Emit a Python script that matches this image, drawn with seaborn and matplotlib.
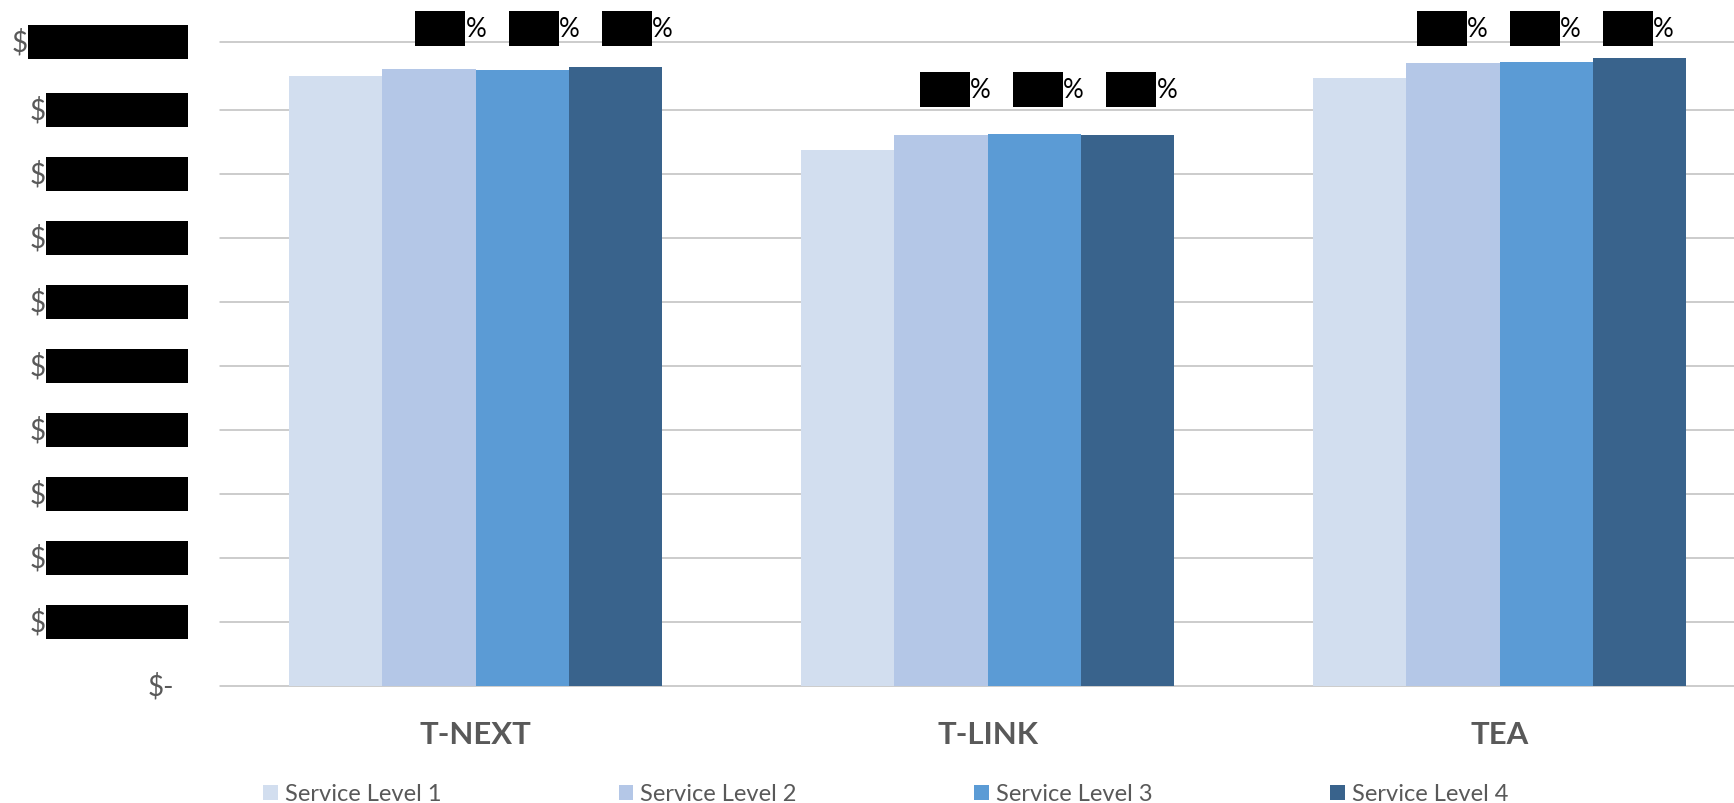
import numpy as np
import pandas as pd
import matplotlib
matplotlib.use("Agg")
import matplotlib.pyplot as plt
import matplotlib.transforms as mtransforms
from matplotlib.patches import Rectangle, Patch
import seaborn as sns

# ---- data (revenue, $ millions) ----
products = ["T-NEXT", "T-LINK", "TEA"]
levels = ["Service Level 1", "Service Level 2", "Service Level 3", "Service Level 4"]
level1 = [9.53, 8.37, 9.51]
level2 = [9.64, 8.605, 9.73]
level3 = [9.62, 8.62, 9.76]
level4 = [9.68, 8.605, 9.82]
y_ticks = [0, 1, 2, 3, 4, 5, 6, 7, 8, 9]
y_top = 10.07

series = [level1, level2, level3, level4]
df = pd.DataFrame(
    [(p, lv, s[i]) for lv, s in zip(levels, series) for i, p in enumerate(products)],
    columns=["product", "level", "value"],
)

colors = ["#D2DEEF", "#B4C7E7", "#5B9BD5", "#39638C"]
GRAY = "#595959"
GRID = "#BFBFBF"

sns.set_theme(style="white")
plt.rcParams["font.family"] = ["Lato", "DejaVu Sans"]

W, H = 1734, 804
fig = plt.figure(figsize=(W / 100, H / 100), dpi=100)
ax = fig.add_axes([219.5 / W, (H - 686.7) / H, 1536 / W, 644 / H])

group_w = 0.727
sns.barplot(
    data=df, x="product", y="value", hue="level", hue_order=levels,
    palette=colors, width=group_w, errorbar=None, saturation=1,
    linewidth=0, legend=False, ax=ax,
)

ax.set_xlim(-0.5, 2.5)
ax.set_ylim(0, y_top)
ax.set_yticks(y_ticks + [y_top])
ax.set_yticklabels([])
ax.tick_params(axis="y", length=0)
ax.set_axisbelow(True)
ax.yaxis.grid(True, color=GRID, linewidth=1.1)
for gl in ax.get_ygridlines():
    gl.set_clip_on(False)
ax.xaxis.grid(False)
sns.despine(ax=ax, left=True, bottom=True)
ax.set_xlabel("")
ax.set_ylabel("")

ax.tick_params(axis="x", length=0, pad=25, labelsize=22.4, labelcolor=GRAY)
for lab in ax.get_xticklabels():
    lab.set_fontweight("bold")

ytrans = ax.get_yaxis_transform()


def redaction(x, y, base, x0, y0, w, h, hidden, hidden_size):
    """Black box in pixel units anchored at (x, y) of `base`, holding hidden text."""
    tr = mtransforms.IdentityTransform() + mtransforms.ScaledTranslation(x, y, base)
    fig.add_artist(Rectangle((x0, y0), w, h, transform=tr, facecolor="black",
                             edgecolor="none", zorder=5))
    ttr = mtransforms.offset_copy(base, fig=fig, x=x0 + w / 2, y=y0 + h / 2, units="dots")
    ax.text(x, y, hidden, transform=ttr, ha="center", va="center", color="black",
            fontsize=hidden_size, family="DejaVu Sans", zorder=6, clip_on=False)


# y tick labels: "$" followed by the (redacted) amount
label_right = -31.5
for v in y_ticks + [y_top]:
    if v == 0:
        tr = mtransforms.offset_copy(ytrans, fig=fig, x=-45.5, units="dots")
        ax.text(0, v, "$-", transform=tr, ha="right", va="center",
                fontsize=20, color=GRAY, clip_on=False)
        continue
    amount = f"{v * 1e6:,.0f}"
    w = 18 * len(amount) - 20
    redaction(0, v, ytrans, label_right - w, -17, w, 34, amount, 12)
    tr = mtransforms.offset_copy(ytrans, fig=fig, x=label_right - w, units="dots")
    ax.text(0, v, "$", transform=tr, ha="right", va="center",
            fontsize=20, color=GRAY, clip_on=False)

# change vs. Service Level 1, shown above levels 2-4
bw = group_w / len(levels)
label_y = [10.27, 9.315, 10.27]
label_shift = [0.0713, 0.0573, 0.027]
for g in range(len(products)):
    base_val = level1[g]
    for k in range(1, len(levels)):
        pct = (series[k][g] / base_val - 1) * 100
        xr = g + bw * (k - 1.5) + label_shift[g]
        redaction(xr, label_y[g], ax.transData, -50, -17.5, 50, 35, f"{pct:.1f}", 11)
        ax.text(xr, label_y[g], "%", ha="left", va="center", fontsize=18.7,
                color="black", clip_on=False)

handles = [Patch(facecolor=c, edgecolor="none") for c in colors]
fig.legend(
    handles, levels, loc="center left",
    bbox_to_anchor=(263 / W, 1 - 795 / H, (1508 - 263) / W, 0),
    mode="expand", ncol=4, frameon=False, borderpad=0, borderaxespad=0,
    handlelength=0.62, handleheight=0.62, handletextpad=0.3,
    fontsize=17, labelcolor=GRAY,
)

fig.savefig("out.png", dpi=100)
